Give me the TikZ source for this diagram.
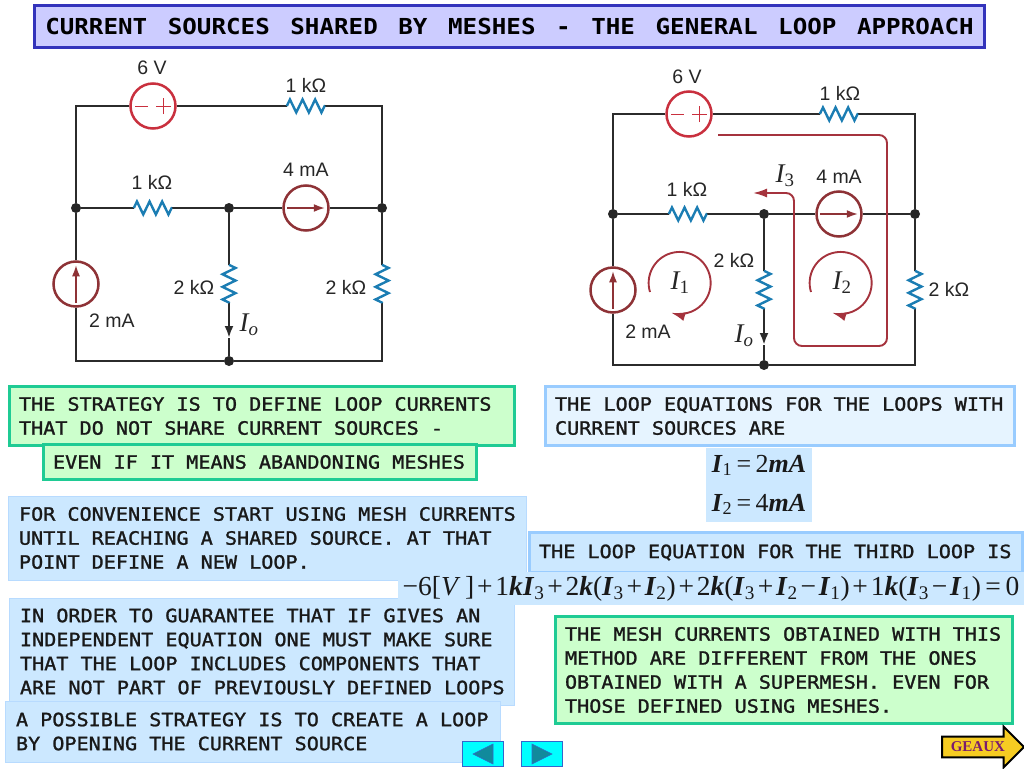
\documentclass[tikz,border=0pt]{standalone}
\usepackage{fontspec}
\setmainfont{Liberation Serif}
\setsansfont{Liberation Sans}
\newfontfamily\panelfont[FakeStretch=1.1,FakeBold=1.3]{DejaVu Sans Mono}
\newfontfamily\headfont[FakeStretch=1.1]{DejaVu Sans Mono Bold}
\usetikzlibrary{arrows.meta,decorations.pathmorphing,shapes.arrows}
\definecolor{wirecol}{HTML}{2B2B2B}
\definecolor{rescol}{HTML}{1B7DB3}
\definecolor{emfcol}{HTML}{C9303E}
\definecolor{srccol}{HTML}{8E3236}
\definecolor{loopcol}{HTML}{A5333D}
\definecolor{greenfill}{HTML}{CCFFCC}
\definecolor{greenline}{HTML}{1FCB94}
\definecolor{bluefill}{HTML}{CCE8FF}
\definecolor{paleblue}{HTML}{E6F4FF}
\definecolor{blueline}{HTML}{99CCFF}
\definecolor{titleline}{HTML}{3333BB}
\definecolor{titlefill}{HTML}{CCCCFF}
\definecolor{navfill}{HTML}{00FFFF}
\definecolor{navline}{HTML}{3366CC}
\definecolor{navtrifill}{HTML}{118A9C}
\definecolor{geauxfill}{HTML}{F6CC22}
\definecolor{geauxtext}{HTML}{7A1C6E}
\newcommand{\Bi}[1]{\textbf{\textit{I}}\textsubscript{\textup{#1}}}
\newcommand{\Ci}[1]{I\textsubscript{\textup{#1}}}
\newcommand{\Bk}{\textbf{\textit{k}}}
\newcommand{\pl}{\kern2.8pt+\kern2.8pt}
\newcommand{\mn}{\kern2.8pt−\kern2.8pt}
\tikzset{
  wire/.style={draw=wirecol,line width=2.6pt},
  resline/.style={draw=rescol,line width=2.4pt,decorate,
    decoration={zigzag,segment length=12.6pt,amplitude=6.5pt}},
  resbox/.style={inner sep=0pt,minimum width=38pt,minimum height=14pt},
  vresbox/.style={inner sep=0pt,minimum width=14pt,minimum height=38pt},
  junct/.style={circle,fill=black!85,inner sep=0pt,minimum size=10pt},
  emf/.style={circle,draw=emfcol,fill=white,line width=2.5pt,inner sep=0pt,minimum size=45pt},
  csrc/.style={circle,draw=srccol,fill=white,line width=2.5pt,inner sep=0pt,minimum size=45pt},
  srcarrow/.style={draw=srccol,line width=1.6pt,-{Latex[length=11pt,width=8pt]},shorten <=5pt,shorten >=5pt},
  emfmark/.style={draw=emfcol,line width=1pt},
  lbl/.style={font=\sffamily\fontsize{19.5}{19.5}\selectfont,text=black!85,inner sep=0pt},
  cur/.style={font=\rmfamily\itshape\fontsize{27}{27}\selectfont,text=black!85,inner sep=0pt},
  loopline/.style={draw=loopcol,line width=1.9pt,-{Latex[length=14pt,width=9pt]}},
  panel/.style={anchor=north west,align=left,inner xsep=11pt,inner ysep=0pt,outer sep=0pt,
    font=\panelfont\fontsize{18.3}{24}\selectfont,text=black!90,
    execute at begin node={\spaceskip=12.1pt\relax}},
  greenbox/.style={panel,inner xsep=9.5pt,fill=greenfill,draw=greenline,line width=3pt},
  bluebox/.style={panel,fill=bluefill,draw=blueline!70,line width=1pt},
  blueframe/.style={panel,inner xsep=9.5pt,fill=bluefill,draw=blueline,line width=3pt},
  navbtn/.style={fill=navfill,draw=navline,line width=1.5pt,inner sep=0pt,
    minimum width=41pt,minimum height=25pt},
  navtri/.style={fill=navtrifill,draw=navline,line width=0.6pt},
}
\begin{document}
\begin{tikzpicture}[x=1pt,y=-1pt]
  \useasboundingbox (0,0) rectangle (1024,768);
  % title
  \node[anchor=north west,fill=titlefill,draw=titleline,line width=3pt,outer sep=0pt,inner sep=0pt,
    minimum width=950pt,minimum height=42pt,text=black,
    font=\headfont\fontsize{22}{24}\selectfont] (title) at (34.5,5.5)
    {\spaceskip=20.6pt\relax CURRENT SOURCES SHARED BY MESHES - THE GENERAL LOOP APPROACH};

  % left circuit
  \node[junct] (jl) at (76,208) {};
  \node[junct] (jc) at (229,208) {};
  \node[junct] (jr) at (382,208) {};
  \node[junct] (jb) at (229,361) {};
  \node[emf] (v1) at (153,106) {};
  \node[resbox] (r1) at (306,106) {};
  \node[resbox] (r2) at (153,208) {};
  \node[csrc] (cs4) at (306,208) {};
  \node[csrc] (cs2) at (76,284) {};
  \node[vresbox] (r3) at (229,284) {};
  \node[vresbox] (r4) at (382,284) {};
  \coordinate (ioa) at (229,338);
  \draw[wire] (v1.west) -| (jl);
  \draw[wire] (v1.east) -- (r1.west);
  \draw[wire] (r1.east) -| (jr);
  \draw[wire] (jl) -- (r2.west);
  \draw[wire] (r2.east) -- (jc);
  \draw[wire] (jc) -- (cs4.west);
  \draw[wire] (cs4.east) -- (jr);
  \draw[wire] (jl) -- (cs2.north);
  \draw[wire] (cs2.south) |- (jb);
  \draw[wire] (jb) -| (r4.south);
  \draw[wire] (r4.north) -- (jr);
  \draw[wire] (jc) -- (r3.north);
  \draw[wire,-{Latex[length=12pt,width=9pt]}] (r3.south) -- (ioa);
  \draw[wire] (ioa) -- (jb);
  \draw[resline] (r1.west) -- (r1.east);
  \draw[resline] (r2.west) -- (r2.east);
  \draw[resline] (r3.north) -- (r3.south);
  \draw[resline] (r4.north) -- (r4.south);
  \draw[srcarrow] (cs4.west) -- (cs4.east);
  \draw[srcarrow] (cs2.south) -- (cs2.north);
  \draw[emfmark] ([xshift=-18pt]v1.center) -- ([xshift=-5pt]v1.center);
  \draw[emfmark] ([xshift=3pt]v1.center) -- ([xshift=18pt]v1.center);
  \draw[emfmark] ([xshift=10pt,yshift=-8pt]v1.center) -- ([xshift=10pt,yshift=8pt]v1.center);
  \node[lbl] (lv1) at (152,68) {6 V};
  \node[lbl] (lr1) at (306,85) {1 kΩ};
  \node[lbl] (lc4) at (306,170) {4 mA};
  \node[lbl] (lr2) at (152,182) {1 kΩ};
  \node[lbl] (lr3) at (194,287) {2 kΩ};
  \node[lbl] (lr4) at (346,287) {2 kΩ};
  \node[lbl] (lc2) at (112,321) {2 mA};
  \node[cur] (lio) at (249,325) {I\textsubscript{o}};

  % right circuit
  \node[junct] (kl) at (613,214) {};
  \node[junct] (kc) at (764,214) {};
  \node[junct] (kr) at (915,214) {};
  \node[junct] (kb) at (764,365) {};
  \node[emf] (w1) at (689,114) {};
  \node[resbox] (s1) at (839,114) {};
  \node[resbox] (s2) at (688,214) {};
  \node[csrc] (ds4) at (839,214) {};
  \node[csrc] (ds2) at (613,290) {};
  \node[vresbox] (s3) at (764,290) {};
  \node[vresbox] (s4) at (915,290) {};
  \coordinate (iob) at (764,345);
  \draw[wire] (w1.west) -| (kl);
  \draw[wire] (w1.east) -- (s1.west);
  \draw[wire] (s1.east) -| (kr);
  \draw[wire] (kl) -- (s2.west);
  \draw[wire] (s2.east) -- (kc);
  \draw[wire] (kc) -- (ds4.west);
  \draw[wire] (ds4.east) -- (kr);
  \draw[wire] (kl) -- (ds2.north);
  \draw[wire] (ds2.south) |- (kb);
  \draw[wire] (kb) -| (s4.south);
  \draw[wire] (s4.north) -- (kr);
  \draw[wire] (kc) -- (s3.north);
  \draw[wire,-{Latex[length=12pt,width=9pt]}] (s3.south) -- (iob);
  \draw[wire] (iob) -- (kb);
  \draw[resline] (s1.west) -- (s1.east);
  \draw[resline] (s2.west) -- (s2.east);
  \draw[resline] (s3.north) -- (s3.south);
  \draw[resline] (s4.north) -- (s4.south);
  \draw[srcarrow] (ds4.west) -- (ds4.east);
  \draw[srcarrow] (ds2.south) -- (ds2.north);
  \draw[emfmark] ([xshift=-18pt]w1.center) -- ([xshift=-5pt]w1.center);
  \draw[emfmark] ([xshift=3pt]w1.center) -- ([xshift=18pt]w1.center);
  \draw[emfmark] ([xshift=10pt,yshift=-8pt]w1.center) -- ([xshift=10pt,yshift=8pt]w1.center);
  % loops
  \coordinate (i3a) at (718,135);
  \coordinate (i3b) at (887,346);
  \coordinate (i3c) at (794,193);
  \coordinate (i3d) at (753,193);
  \coordinate (i1a) at (650,292);
  \coordinate (i2a) at (811,292);
  \draw[loopline,rounded corners=8pt] (i3a) -| (i3b) -| (i3c) -- (i3d);
  \draw[loopline] (i1a) arc[start angle=197,end angle=-106,radius=31pt];
  \draw[loopline] (i2a) arc[start angle=197,end angle=-106,radius=31pt];
  \node[lbl] (lw1) at (687,77) {6 V};
  \node[lbl] (ls1) at (840,93) {1 kΩ};
  \node[lbl] (ld4) at (839,177) {4 mA};
  \node[lbl] (ls2) at (687,189) {1 kΩ};
  \node[lbl] (ls3) at (734,260) {2 kΩ};
  \node[lbl] (ls4) at (949,289) {2 kΩ};
  \node[lbl] (ld2) at (648,332) {2 mA};
  \node[cur] (lib) at (744,336) {I\textsubscript{o}};
  \node[cur] (li3) at (785,176) {\Ci{3}};
  \node[cur] (li1) at (680,283) {\Ci{1}};
  \node[cur] (li2) at (842,283) {\Ci{2}};

  % text panels
  \node[greenbox,text width=486pt,minimum height=59pt] (strat) at (9.5,386.5)
    {THE STRATEGY IS TO DEFINE LOOP CURRENTS\\THAT DO NOT SHARE CURRENT SOURCES -};
  \node[greenbox,text width=414pt,minimum height=35pt] (aband) at (43.5,444.5)
    {EVEN IF IT MEANS ABANDONING MESHES};
  \node[blueframe,fill=paleblue,text width=450pt,minimum height=59pt] (loopeq) at (545.5,386.5)
    {THE LOOP EQUATIONS FOR THE LOOPS WITH\\CURRENT SOURCES ARE};
  \node[bluebox,draw=none,anchor=north,inner xsep=0pt,text width=106pt,minimum height=74pt,align=center,
    font=\rmfamily\fontsize{26}{39}\selectfont] (known) at (759,448)
    {\Bi{1}\,=\,2\textbf{\textit{mA}}\\\Bi{2}\,=\,4\textbf{\textit{mA}}};
  \node[bluebox,text width=496pt,minimum height=84pt] (conv) at (8,496)
    {\mbox{FOR CONVENIENCE START USING MESH CURRENTS}\\UNTIL REACHING A SHARED SOURCE. AT THAT\\POINT DEFINE A NEW LOOP.};
  \node[bluebox,text width=483pt,minimum height=107pt] (indep) at (9,598)
    {IN ORDER TO GUARANTEE THAT IF GIVES AN\\INDEPENDENT EQUATION ONE MUST MAKE SURE\\THAT THE LOOP INCLUDES COMPONENTS THAT\\\mbox{ARE NOT PART OF PREVIOUSLY DEFINED LOOPS}};
  \node[bluebox,text width=473pt,minimum height=61pt] (open) at (5,701)
    {A POSSIBLE STRATEGY IS TO CREATE A LOOP\\BY OPENING THE CURRENT SOURCE};
  \node[blueframe,text width=474pt,minimum height=40pt] (third) at (529.5,532.5)
    {THE LOOP EQUATION FOR THE THIRD LOOP IS};
  \node[bluebox,draw=none,inner xsep=0pt,text width=626pt,minimum height=33pt,align=center,
    font=\rmfamily\fontsize{27.5}{28}\selectfont] (eqn) at (398,572)
    {−6[\textit{V}\,]\pl1\Bk\Bi{3}\pl2\Bk(\Bi{3}\pl\Bi{2})\pl2\Bk(\Bi{3}\pl\Bi{2}\mn\Bi{1})\pl1\Bk(\Bi{3}\mn\Bi{1})\,=\,0};
  \node[greenbox,text width=438pt,minimum height=107pt] (differ) at (555.5,616.5)
    {THE MESH CURRENTS OBTAINED WITH THIS\\METHOD ARE DIFFERENT FROM THE ONES\\OBTAINED WITH A SUPERMESH. EVEN FOR\\THOSE DEFINED USING MESHES.};

  % navigation
  \foreach \nm/\cx/\dr in {navl/483/-1,navr/542/1}{
    \node[navbtn] (\nm) at (\cx,754) {};
    \draw[navtri] ([xshift=\dr*10pt]\nm.center) -- ([xshift=-\dr*10pt,yshift=10pt]\nm.center)
      -- ([xshift=-\dr*10pt,yshift=-10pt]\nm.center) -- cycle;
  }
  \node[single arrow,draw=black,line width=2pt,fill=geauxfill,anchor=west,inner sep=0pt,
    minimum width=41pt,minimum height=82pt,single arrow head extend=6pt,single arrow head indent=0pt,
    text=geauxtext,font=\rmfamily\bfseries\fontsize{15}{15}\selectfont] (geaux) at (941,747) {GEAUX};
\end{tikzpicture}
\end{document}
